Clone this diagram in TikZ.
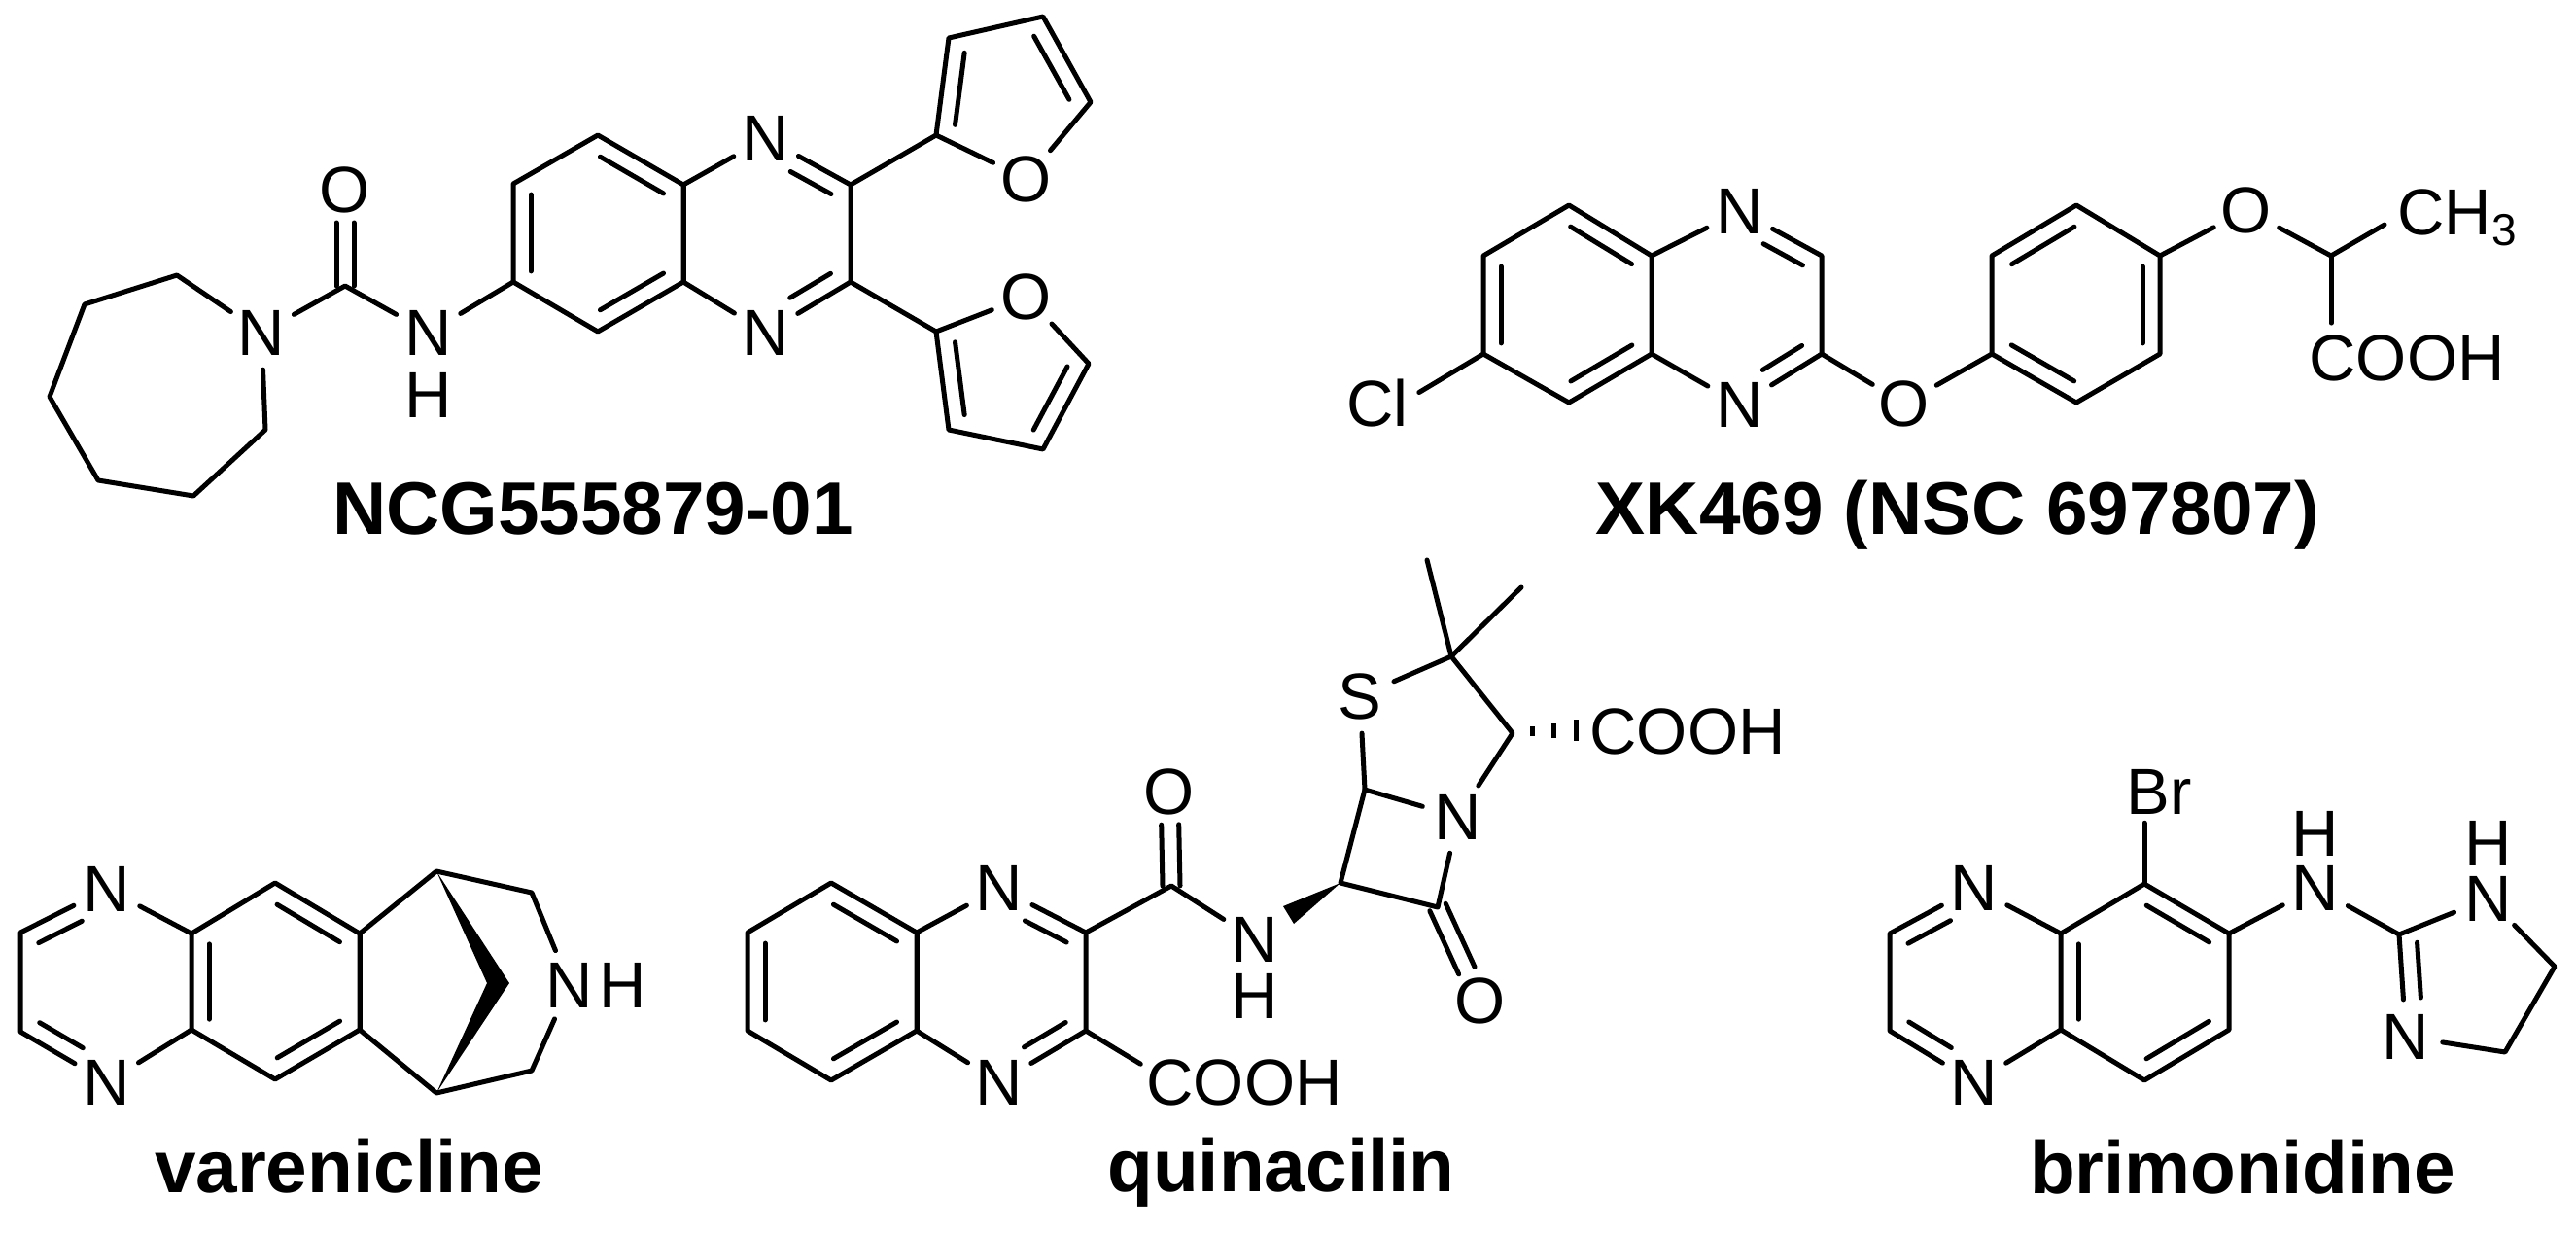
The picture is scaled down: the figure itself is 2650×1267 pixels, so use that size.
\documentclass[tikz,border=0pt]{standalone}
\usepackage{fontspec}
\setmainfont{Liberation Sans}
\usetikzlibrary{calc}
\newcommand{\dbond}[4]{\draw[bond] ($(#1)!#3!(#2)!18pt!90:(#2)$) -- ($(#2)!#4!(#1)!18pt!-90:(#1)$);}
\newcommand{\cbond}[2]{\draw[bond,shorten >=34pt] ($(#1)!9pt!90:(#2)$) -- ($(#2)!9pt!-90:(#1)$);
\draw[bond,shorten >=34pt] ($(#1)!9pt!-90:(#2)$) -- ($(#2)!9pt!90:(#1)$);}
\begin{document}
\begin{tikzpicture}[x=1pt,y=-1pt,
                    bond/.style={line width=5pt,line cap=round,line join=round},
                    hash/.style={line width=5pt},
                    atom/.style={circle,inner sep=0pt,minimum size=76pt,font=\fontsize{67}{70}\selectfont},
                    group/.style={inner sep=6pt,font=\fontsize{67}{70}\selectfont},
                    title/.style={anchor=base,inner sep=0pt,font=\fontsize{76.5}{80}\selectfont\bfseries}]
\useasboundingbox (0,0) rectangle (2650,1267);
% NCG555879-01
\coordinate (at) at (615,139); \coordinate (aul) at (528,189); \coordinate (all) at (528,290);
\coordinate (ab) at (615,341); \coordinate (alr) at (703,290); \coordinate (aur) at (703,190);
\coordinate (acu) at (875,190); \coordinate (acl) at (875,290);
\node [atom] (an1) at (788,142) {N};
\node [atom] (an2) at (788,342) {N};
\coordinate (af1) at (963,139); \coordinate (af2) at (976,39); \coordinate (af3) at (1073,17); \coordinate (af4) at (1122,105);
\node [atom] (afo) at (1056,184) {O};
\coordinate (ag1) at (963,341); \coordinate (ag2) at (976,442); \coordinate (ag3) at (1073,462); \coordinate (ag4) at (1120,374);
\node [atom] (ago) at (1056,305) {O};
\coordinate (au) at (355,294);
\node [atom] (auo) at (355,195) {O};
\node [atom] (an3) at (441,342) {N};
\node [atom] (ah) at (441,406) {H};
\node [atom] (an4) at (269,342) {N};
\coordinate (az1) at (182,283); \coordinate (az2) at (87,313); \coordinate (az3) at (51,408);
\coordinate (az4) at (101,494); \coordinate (az5) at (199,510); \coordinate (az6) at (273,442);
\draw [bond] (at) -- (aul) -- (all) -- (ab) -- (alr) -- (aur) -- cycle;
\draw [bond] (aur) -- (alr);
\draw [bond] (aur) -- (an1) -- (acu) -- (acl) -- (an2) -- (alr);
\draw [bond] (acu) -- (af1) -- (af2) -- (af3) -- (af4) -- (afo) -- (af1);
\draw [bond] (acl) -- (ag1) -- (ag2) -- (ag3) -- (ag4) -- (ago) -- (ag1);
\draw [bond] (all) -- (an3) -- (au) -- (an4) -- (az1) -- (az2) -- (az3) -- (az4) -- (az5) -- (az6) -- (an4);
\cbond{au}{auo}
\dbond{aul}{all}{.11}{.11} \dbond{ab}{alr}{.13}{.13} \dbond{aur}{at}{.13}{.13}
\dbond{acu}{an1}{.13}{.39} \dbond{an2}{acl}{.39}{.13}
\dbond{af2}{af1}{.13}{.13} \dbond{af4}{af3}{.13}{.13}
\dbond{ag1}{ag2}{.13}{.13} \dbond{ag3}{ag4}{.13}{.13}
\node [title] (alabel) at (610,549) {NCG555879-01};
% XK469
\coordinate (bt) at (1614,211); \coordinate (bul) at (1526,263); \coordinate (bll) at (1526,364);
\coordinate (bb) at (1614,414); \coordinate (blr) at (1699,364); \coordinate (bur) at (1699,263);
\coordinate (bcu) at (1874,263); \coordinate (bcl) at (1874,364);
\node [atom] (bn1) at (1790,217) {N};
\node [atom] (bn2) at (1790,416) {N};
\node [atom] (bo1) at (1959,415) {O};
\node [atom] (bo2) at (2311,216) {O};
\coordinate (bp1) at (2136,211); \coordinate (bp2) at (2049,263); \coordinate (bp3) at (2049,364);
\coordinate (bp4) at (2136,414); \coordinate (bp5) at (2222,364); \coordinate (bp6) at (2222,263);
\coordinate (bch) at (2398,263);
\node [group,inner sep=11pt] (bcl1) at (1417,415) {Cl};
\node [group,inner sep=0pt,anchor=base west] (bme) at (2466,241) {CH\raisebox{-11pt}{\fontsize{46}{46}\selectfont 3}};
\node [group,inner ysep=12pt] (bacid) at (2476,368) {COOH};
\draw [bond] (bt) -- (bul) -- (bll) -- (bb) -- (blr) -- (bur) -- cycle;
\draw [bond] (bur) -- (blr);
\draw [bond] (bur) -- (bn1) -- (bcu) -- (bcl) -- (bn2) -- (blr);
\draw [bond] (bcl) -- (bo1) -- (bp3) -- (bp2) -- (bp1) -- (bp6) -- (bp5) -- (bp4) -- (bp3);
\draw [bond] (bp6) -- (bo2) -- (bch) -- ([xshift=-13pt,yshift=10pt]bme.base west);
\draw [bond] (bch) -- (bch |- bacid.north);
\draw [bond] (bll) -- (bcl1.15);
\dbond{bul}{bll}{.11}{.11} \dbond{bb}{blr}{.13}{.13} \dbond{bur}{bt}{.13}{.13}
\dbond{bcu}{bn1}{.13}{.39} \dbond{bn2}{bcl}{.39}{.13}
\dbond{bp1}{bp2}{.13}{.13} \dbond{bp3}{bp4}{.13}{.13} \dbond{bp5}{bp6}{.11}{.11}
\node [title] (blabel) at (2014,549) {XK469 (NSC 697807)};
% varenicline
\node [atom] (cn1) at (110,914) {N};
\node [atom] (cn2) at (110,1113) {N};
\node [atom] (cn3) at (586,1013) {N};
\node [atom] (ch) at (641,1013) {H};
\coordinate (cc1) at (21,959); \coordinate (cc2) at (21,1061);
\coordinate (cul) at (197,960); \coordinate (cll) at (197,1059); \coordinate (cb) at (283,1110);
\coordinate (clr) at (370,1059); \coordinate (cur) at (370,960); \coordinate (ct) at (283,908);
\coordinate (cbt) at (449,896); \coordinate (cbb) at (449,1124);
\coordinate (cm1) at (547,918); \coordinate (cm2) at (547,1101);
\coordinate (cw1) at (501,1011); \coordinate (cw2) at (524,1011);
\draw [bond] (cul) -- (cn1) -- (cc1) -- (cc2) -- (cn2) -- (cll);
\draw [bond] (ct) -- (cul) -- (cll) -- (cb) -- (clr) -- (cur) -- cycle;
\draw [bond] (cur) -- (clr);
\draw [bond] (cur) -- (cbt) -- (cm1) -- (cn3) -- (cm2) -- (cbb) -- (clr);
\fill (cbt) -- (cw2) -- (cbb) -- (cw1) -- cycle;
\dbond{cn1}{cc1}{.38}{.12} \dbond{cc2}{cn2}{.12}{.38}
\dbond{cul}{cll}{.11}{.11} \dbond{cb}{clr}{.13}{.13} \dbond{cur}{ct}{.13}{.13}
\node [title] (clabel) at (359,1226) {varenicline};
% quinacilin
\coordinate (dt) at (855,908); \coordinate (dul) at (769,959); \coordinate (dll) at (769,1060);
\coordinate (db) at (855,1111); \coordinate (dlr) at (943,1060); \coordinate (dur) at (943,959);
\coordinate (dcu) at (1117,959); \coordinate (dcl) at (1117,1060);
\node [atom] (dn1) at (1028,913) {N};
\node [atom] (dn2) at (1028,1113) {N};
\coordinate (dam) at (1205,911);
\node [atom] (do1) at (1203,814) {O};
\node [atom] (dn3) at (1291,966) {N};
\node [atom] (dh) at (1291,1024) {H};
\node [group] (dacid1) at (1280,1113) {COOH};
\coordinate (dl1) at (1379,908); \coordinate (dl2) at (1404,812); \coordinate (dl3) at (1479,933);
\node [atom] (dn4) at (1500,840) {N};
\node [atom] (do2) at (1523,1029) {O};
\node [atom] (ds) at (1399,716) {S};
\coordinate (dq) at (1493,675); \coordinate (dme1) at (1468,576); \coordinate (dme2) at (1565,604);
\coordinate (dc) at (1556,754);
\node [group] (dacid2) at (1736,752) {COOH};
\draw [bond] (dt) -- (dul) -- (dll) -- (db) -- (dlr) -- (dur) -- cycle;
\draw [bond] (dur) -- (dlr);
\draw [bond] (dur) -- (dn1) -- (dcu) -- (dcl) -- (dn2) -- (dlr);
\draw [bond] (dcu) -- (dam) -- (dn3);
\draw [bond] (dcl) -- (dacid1.170);
\draw [bond] (dl3) -- (dl1) -- (dl2) -- (dn4) -- (dl3);
\draw [bond] (dl2) -- (ds) -- (dq) -- (dc) -- (dn4);
\draw [bond] (dme1) -- (dq) -- (dme2);
\cbond{dam}{do1} \cbond{dl3}{do2}
\fill (dl1) -- (1320,932) -- (1331,950) -- cycle;
\draw [hash] (1576,747) -- (1576,757);
\draw [hash] (1598,744) -- (1598,759);
\draw [hash] (1621,740) -- (1621,762);
\dbond{dul}{dll}{.11}{.11} \dbond{db}{dlr}{.13}{.13} \dbond{dur}{dt}{.13}{.13}
\dbond{dcu}{dn1}{.13}{.39} \dbond{dn2}{dcl}{.39}{.13}
\node [title] (dlabel) at (1318,1225) {quinacilin};
% brimonidine
\node [atom] (en1) at (2031,913) {N};
\node [atom] (en2) at (2031,1113) {N};
\coordinate (ec1) at (1944,960); \coordinate (ec2) at (1944,1060);
\coordinate (eul) at (2120,960); \coordinate (ell) at (2120,1059); \coordinate (eb) at (2206,1111);
\coordinate (elr) at (2293,1059); \coordinate (eur) at (2293,960); \coordinate (et) at (2206,909);
\node [group,inner sep=9pt] (ebr) at (2221,814) {Br};
\node [atom] (en3) at (2382,913) {N};
\node [atom] (eh1) at (2382,857) {H};
\coordinate (eg) at (2468,961);
\node [atom] (en4) at (2560,924) {N};
\node [atom] (eh2) at (2560,867) {H};
\node [atom] (en5) at (2475,1066) {N};
\coordinate (em1) at (2628,994); \coordinate (em2) at (2577,1082);
\draw [bond] (eul) -- (en1) -- (ec1) -- (ec2) -- (en2) -- (ell);
\draw [bond] (et) -- (eul) -- (ell) -- (eb) -- (elr) -- (eur) -- cycle;
\draw [bond] (et) -- (et |- ebr.south);
\draw [bond] (eur) -- (en3) -- (eg) -- (en4) -- (em1) -- (em2) -- (en5) -- (eg);
\dbond{en1}{ec1}{.38}{.12} \dbond{ec2}{en2}{.12}{.38}
\dbond{eul}{ell}{.11}{.11} \dbond{eb}{elr}{.13}{.13} \dbond{eur}{et}{.13}{.13}
\dbond{eg}{en5}{.09}{.37}
\node [title] (elabel) at (2307,1227) {brimonidine};
\end{tikzpicture}
\end{document}
